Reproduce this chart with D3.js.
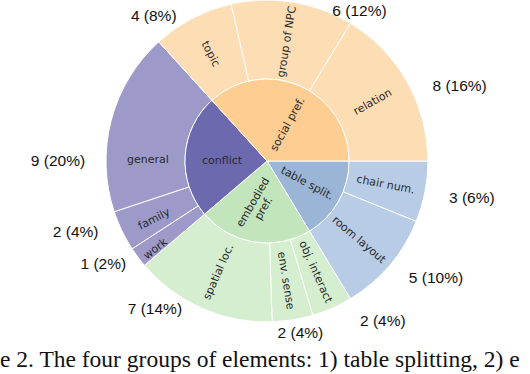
<!DOCTYPE html>
<html>
<head>
<meta charset="utf-8">
<script src="https://cdn.jsdelivr.net/npm/d3@7"></script>
<style>
  body { margin: 0; background: #fff; }
  svg { display: block; }
</style>
</head>
<body>
<script>
// groups (inner ring) and elements (outer ring), clockwise from 3 o'clock
const groups = ['table split.', 'embodied pref.', 'conflict', 'social pref.'];
const elements = ['chair num.', 'room layout', 'obj. interact', 'env. sense', 'spatial loc.',
                  'work', 'family', 'general', 'topic', 'group of NPC', 'relation'];
const elementGroup = [0, 0, 1, 1, 1, 2, 2, 2, 3, 3, 3];
const counts = [3, 5, 2, 2, 7, 1, 2, 9, 4, 6, 8];
const percents = [6, 10, 4, 4, 14, 2, 4, 20, 8, 12, 16];

const groupColors = ['#9ab5d6', '#c2e5bc', '#6d69ae', '#fdcd92'];
const elementColors = ['#b9cce6', '#d5eed0', '#9d9aca', '#fdddb4'];

const WIDTH = 530, HEIGHT = 374;
const CX = 267, CY = 161;
const R_INNER = 82, R_OUTER = 161;

// where the outside count labels sit (polar: degrees clockwise from 12 o'clock, radius)
const COUNT_LABEL_POS = {
    'chair num.': [100, 208], 'room layout': [124.7, 205.5], 'obj. interact': [144, 197],
    'env. sense': [169, 175], 'spatial loc.': [217.3, 185], 'work': [238, 193],
    'family': [249.7, 204], 'general': [270, 209], 'topic': [322, 184],
    'group of NPC': [31.5, 177], 'relation': [68.5, 207]
};
// in-ring labels that are nudged off the sector middle (degrees, radius)
const LABEL_NUDGE = {
    'general': [271, 119], 'conflict': [271.6, 45], 'work': [232, 142], 'family': [243, 127],
    'table split.': [118.5, 46], 'embodied pref.': [191.6, 45], 'social pref.': [28.7, 42]
};
// labels drawn at a fixed angle instead of along the radius
const FIXED_ROT = {'general': 0, 'conflict': 0, 'embodied pref.': -60};

const groupTotals = groups.map((g, i) =>
    d3.sum(counts.filter((c, j) => elementGroup[j] === i)));

const svg = d3.select('body').append('svg')
    .attr('width', WIDTH)
    .attr('height', HEIGHT);

const g = svg.append('g').attr('transform', `translate(${CX}, ${CY})`);

const pie = d3.pie()
    .sort(null)
    .startAngle(Math.PI / 2)
    .endAngle(Math.PI / 2 + 2 * Math.PI);

const innerArcs = pie(groupTotals);
const outerArcs = pie(counts);

const innerArc = d3.arc().innerRadius(0).outerRadius(R_INNER);
const outerArc = d3.arc().innerRadius(R_INNER).outerRadius(R_OUTER);

g.selectAll('.outer')
  .data(outerArcs)
  .enter().append('path')
    .attr('class', 'outer')
    .attr('d', outerArc)
    .attr('fill', (d, i) => elementColors[elementGroup[i]])
    .attr('stroke', '#fff')
    .attr('stroke-width', 1);

g.selectAll('.inner')
  .data(innerArcs)
  .enter().append('path')
    .attr('class', 'inner')
    .attr('d', innerArc)
    .attr('fill', (d, i) => groupColors[i])
    .attr('stroke', '#fff')
    .attr('stroke-width', 1);

function labelTransform(d, r, name) {
    let deg = ((d.startAngle + d.endAngle) / 2 * 180 / Math.PI) % 360;
    if (name in LABEL_NUDGE) {
        deg = LABEL_NUDGE[name][0];
        r = LABEL_NUDGE[name][1];
    }
    const a = deg * Math.PI / 180;
    const x = r * Math.sin(a), y = -r * Math.cos(a);
    let rot;
    if (name in FIXED_ROT) {
        rot = FIXED_ROT[name];
    } else {
        rot = deg < 180 ? deg - 90 : deg - 270;
    }
    return `translate(${x}, ${y}) rotate(${rot})`;
}

const inText = g.selectAll('.group-label')
  .data(innerArcs)
  .enter().append('text')
    .attr('class', 'group-label')
    .attr('transform', (d, i) => labelTransform(d, 42, groups[i]))
    .attr('text-anchor', 'middle')
    .attr('font-family', 'DejaVu Sans, Verdana, sans-serif')
    .attr('font-size', 11)
    .attr('fill', '#2a2a2a');

inText.each(function(d, i) {
    const words = groups[i] === 'embodied pref.' ? ['embodied', 'pref.'] : [groups[i]];
    const t = d3.select(this);
    words.forEach((w, k) => {
        t.append('tspan')
            .attr('x', 0)
            .attr('dy', k === 0 ? (0.35 - (words.length - 1) * 0.55) + 'em' : '1.1em')
            .text(w);
    });
});

g.selectAll('.element-label')
  .data(outerArcs)
  .enter().append('text')
    .attr('class', 'element-label')
    .attr('transform', (d, i) => labelTransform(d, 121, elements[i]))
    .attr('text-anchor', 'middle')
    .attr('dy', '0.35em')
    .attr('font-family', 'DejaVu Sans, Verdana, sans-serif')
    .attr('font-size', 11)
    .attr('fill', '#2a2a2a')
    .text((d, i) => elements[i]);

g.selectAll('.count-label')
  .data(outerArcs)
  .enter().append('text')
    .attr('class', 'count-label')
    .attr('x', (d, i) => {
        const p = COUNT_LABEL_POS[elements[i]];
        return p[1] * Math.sin(p[0] * Math.PI / 180);
    })
    .attr('y', (d, i) => {
        const p = COUNT_LABEL_POS[elements[i]];
        return -p[1] * Math.cos(p[0] * Math.PI / 180);
    })
    .attr('text-anchor', 'middle')
    .attr('dy', '0.35em')
    .attr('font-family', 'Liberation Sans, Arial, sans-serif')
    .attr('font-size', 15.5)
    .attr('fill', '#111')
    .text((d, i) => `${counts[i]} (${percents[i]}%)`);

svg.append('text')
    .attr('x', 0)
    .attr('y', 367)
    .attr('font-family', 'Liberation Serif, Times New Roman, serif')
    .attr('font-size', 23.5)
    .attr('fill', '#111')
    .text('e 2. The four groups of elements: 1) table splitting, 2) e');
</script>
</body>
</html>
